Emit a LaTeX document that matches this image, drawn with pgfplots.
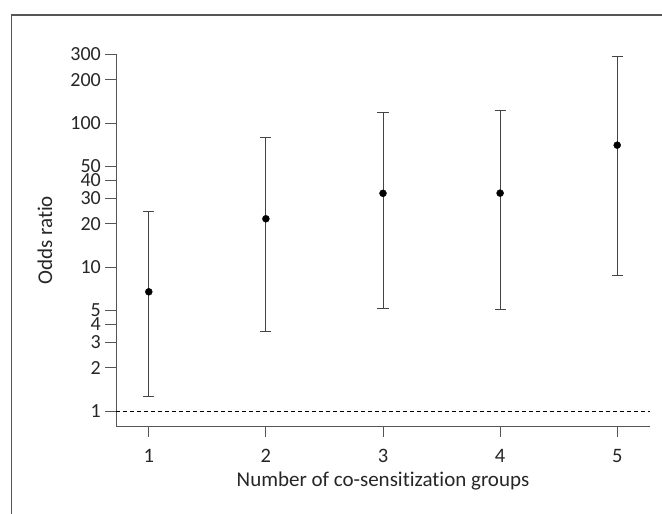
\documentclass[border=0pt]{standalone}
\usepackage{pgfplots}
\pgfplotsset{compat=1.18}
\usepackage{fontspec}
\setmainfont[Ligatures=NoCommon]{Carlito}
\definecolor{axgray}{HTML}{555555}
\begin{document}
\begin{tikzpicture}
\pgfplotstableread{
x  y     ep     em
1  6.75  17.45  5.49
2  21.7  57.3   18.14
3  32.6  86.0   27.41
4  32.7  89.3   27.65
5  70.4  218.6  61.57
}\ordata
\begin{axis}[
  scale only axis, width=534pt, height=371.5pt,
  ymode=log, xmin=0.72, xmax=5.28, ymin=0.79, ymax=300,
  axis x line=bottom, axis y line=left,
  axis line style={-, axgray, line width=0.9pt},
  xtick={1,2,3,4,5}, xticklabels={1,2,3,4,5},
  ytick={1,2,3,4,5,10,20,30,40,50,100,200,300},
  yticklabels={1,2,3,4,5,10,20,30,40,50,100,200,300},
  yminorticks=false,
  tick align=outside, major tick length=11pt,
  tick style={axgray, line width=0.9pt},
  ticklabel style={font=\fontsize{20.5}{22}\selectfont, text=black!85},
  yticklabel style={font=\fontsize{20}{22}\selectfont, inner xsep=4pt, inner ysep=0pt},
  xticklabel style={yshift=-9pt},
  label style={font=\fontsize{21}{23}\selectfont, text=black!85},
  xlabel={Number of co-sensitization groups},
  ylabel={Odds ratio},
  xlabel style={at={(rel axis cs:0.5,0)}, anchor=base, yshift=-61pt},
  ylabel style={at={(rel axis cs:0,0.5)}, anchor=center, yshift=71pt},
  clip=false,
]
\addplot[black, dashed, line width=0.7pt, dash pattern=on 4pt off 3pt] coordinates {(0.72,1) (5.28,1)};
\addplot[only marks, mark=*, mark size=3.5pt, black,
  error bars/.cd, y dir=both, y explicit,
  error bar style={axgray!80!black, line width=1pt},
  error mark options={rotate=90, mark size=5.5pt, axgray!80!black, line width=1pt}]
  table[x=x, y=y, y error plus=ep, y error minus=em] {\ordata};
\end{axis}
\draw[axgray, line width=1.2pt] (-104.2pt,-120pt) -- (-104.2pt,411pt) -- (580pt,411pt);
\pgfresetboundingbox
\useasboundingbox (-116pt,-88pt) rectangle (546pt,426pt);
\end{tikzpicture}
\end{document}
